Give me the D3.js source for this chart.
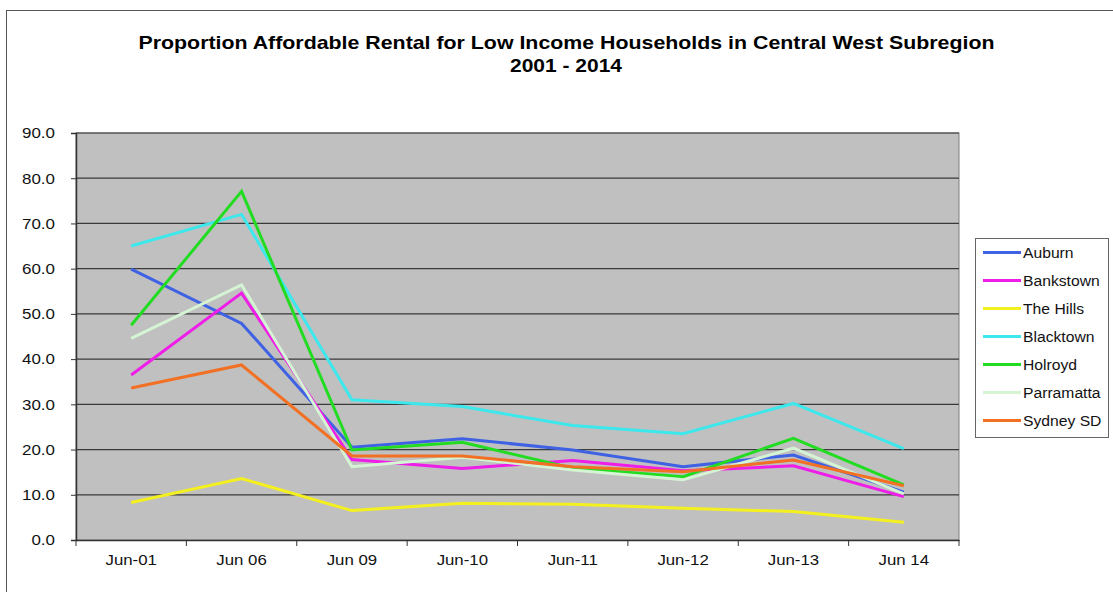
<!DOCTYPE html>
<html><head><meta charset="utf-8">
<script src="https://cdn.jsdelivr.net/npm/d3@7"></script>
<style>
html,body{margin:0;padding:0;background:#fff;}
svg{display:block;font-family:"Liberation Sans",Arial,sans-serif;}
</style></head>
<body><svg id="c" width="1113" height="592"></svg>
<script>
const categories = ["Jun-01","Jun 06","Jun 09","Jun-10","Jun-11","Jun-12","Jun-13","Jun 14"];
const yTicks = [0,10,20,30,40,50,60,70,80,90];
const seriesNames = ["Auburn","Bankstown","The Hills","Blacktown","Holroyd","Parramatta","Sydney SD"];
const seriesColors = ["#3f62e4","#ee1ee8","#f4f020","#3ce8ec","#22dc22","#d4f4d4","#f27024"];
const auburn     = [59.9, 47.9, 20.5, 22.4, 19.9, 16.2, 18.8, 10.6];
const bankstown  = [36.5, 54.6, 17.8, 15.8, 17.6, 15.3, 16.4, 9.6];
const theHills   = [8.3, 13.6, 6.5, 8.1, 7.9, 7.0, 6.3, 3.9];
const blacktown  = [65.0, 72.0, 31.0, 29.5, 25.3, 23.5, 30.2, 20.2];
const holroyd    = [47.5, 77.1, 19.9, 21.6, 15.9, 14.0, 22.5, 12.2];
const parramatta = [44.6, 56.4, 16.2, 18.3, 15.5, 13.3, 20.3, 10.2];
const sydneySD   = [33.6, 38.7, 18.6, 18.6, 16.2, 15.1, 17.7, 12.0];
const seriesValues = [auburn, bankstown, theHills, blacktown, holroyd, parramatta, sydneySD];

const svg = d3.select("#c");
function stretch(sel, f){
  sel.each(function(){
    const w = this.getComputedTextLength();
    d3.select(this).attr("textLength", w*f).attr("lengthAdjust","spacingAndGlyphs");
  });
}
// outer chart frame
svg.append("rect").attr("x",6.5).attr("y",10.5).attr("width",1130).attr("height",600)
  .attr("fill","none").attr("stroke","#555").attr("stroke-width",1);

const L=76, R=959, T=133, B=540;
const x = d3.scaleBand().domain(categories).range([L,R]);
const y = d3.scaleLinear().domain([0,90]).range([B,T]);

svg.append("rect").attr("x",L).attr("y",T).attr("width",R-L).attr("height",B-T)
  .attr("fill","#c0c0c0").attr("stroke","#808080").attr("stroke-width",1);

// gridlines
svg.append("g").selectAll("line").data(yTicks.filter(d=>d>0)).join("line")
  .attr("x1",L).attr("x2",R).attr("y1",d=>y(d)).attr("y2",d=>y(d))
  .attr("stroke","#3a3a3a").attr("stroke-width",1.2);

// y axis
const ya = svg.append("g").attr("transform",`translate(${L},0)`)
  .call(d3.axisLeft(y).tickValues(yTicks).tickFormat(d3.format(".1f")).tickSize(5).tickPadding(16));
ya.select(".domain").attr("stroke","#333").attr("stroke-width",1.5);
ya.selectAll(".tick line").attr("stroke","#333");
ya.selectAll("text").attr("font-size",15).attr("fill","#111").attr("font-family","Liberation Sans, Arial, sans-serif");
stretch(ya.selectAll("text"), 1.13);

// x axis
const xa = svg.append("g").attr("transform",`translate(0,${B})`)
  .call(d3.axisBottom(x).tickSize(0).tickPadding(14));
xa.select(".domain").attr("stroke","#333").attr("stroke-width",1.5);
xa.selectAll("text").attr("font-size",15).attr("fill","#111").attr("font-family","Liberation Sans, Arial, sans-serif");
stretch(xa.selectAll("text"), 1.12);
// tick marks at category boundaries
const bounds = categories.map(c=>x(c)).concat([x(categories[categories.length-1])+x.bandwidth()]);
svg.append("g").selectAll("line").data(bounds).join("line")
  .attr("x1",d=>d).attr("x2",d=>d).attr("y1",B).attr("y2",B+6)
  .attr("stroke","#333").attr("stroke-width",1);

// lines
const line = d3.line().x((d,i)=>x(categories[i])+x.bandwidth()/2).y(d=>y(d));
svg.append("g").selectAll("path").data(seriesValues).join("path")
  .attr("d",line).attr("fill","none")
  .attr("stroke",(d,i)=>seriesColors[i]).attr("stroke-width",3).attr("stroke-linejoin","miter");

// title
svg.append("text").attr("x",566.5).attr("y",49).attr("text-anchor","middle")
  .attr("font-size",18.5).attr("font-weight","bold").attr("fill","#000")
  .attr("textLength",856).attr("lengthAdjust","spacingAndGlyphs")
  .text("Proportion Affordable Rental for Low Income Households in Central West Subregion");
svg.append("text").attr("x",566).attr("y",72).attr("text-anchor","middle")
  .attr("font-size",18.5).attr("font-weight","bold").attr("fill","#000")
  .attr("textLength",112).attr("lengthAdjust","spacingAndGlyphs")
  .text("2001 - 2014");

// legend
const lg = svg.append("g");
lg.append("rect").attr("x",975.5).attr("y",238.5).attr("width",133).attr("height",199)
  .attr("fill","#fff").attr("stroke","#666");
const ly = d3.scalePoint().domain(seriesNames).range([252.5,420.5]);
seriesNames.forEach((n,i)=>{
  lg.append("line").attr("x1",983).attr("x2",1021).attr("y1",ly(n)).attr("y2",ly(n))
    .attr("stroke",seriesColors[i]).attr("stroke-width",3);
  const t = lg.append("text").attr("x",1023).attr("y",ly(n)+5).attr("font-size",14)
    .attr("fill","#111").text(n);
  stretch(t, 1.12);
});
</script></body></html>
